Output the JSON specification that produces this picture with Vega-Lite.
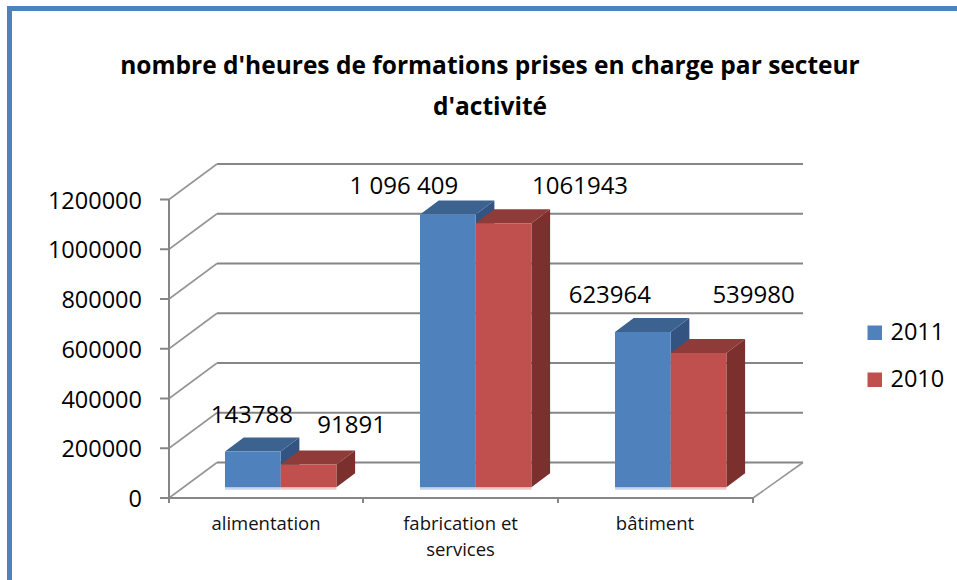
{
"$schema":"https://vega.github.io/schema/vega-lite/v6.json",
"width":634,"height":335,
"autosize":{"type":"none"},
"padding":{"left":169,"top":163,"right":154,"bottom":82},
"background":"white",
"config":{"view":{"stroke":null},"font":"Open Sans"},
"title":{"text":["nombre  d'heures de formations prises en charge par secteur","d'activité"],"font":"Open Sans","fontSize":24.5,"fontWeight":"bold","color":"#000000","anchor":"middle","frame":"group","dx":4,"offset":-114,"lineHeight":41},
"datasets":{
 "barres":[
  {"secteur":"alimentation","annee":"2011","valeur":143788,"etiquette":"143788"},
  {"secteur":"alimentation","annee":"2010","valeur":91891,"etiquette":"91891"},
  {"secteur":"fabrication et services","annee":"2011","valeur":1096409,"etiquette":"1 096 409"},
  {"secteur":"fabrication et services","annee":"2010","valeur":1061943,"etiquette":"1061943"},
  {"secteur":"bâtiment","annee":"2011","valeur":623964,"etiquette":"623964"},
  {"secteur":"bâtiment","annee":"2010","valeur":539980,"etiquette":"539980"}
 ],
 "graduations":[{"v":0},{"v":200000},{"v":400000},{"v":600000},{"v":800000},{"v":1000000},{"v":1200000}],
 "categories":[{"nom":"alimentation","rang":0},{"nom":"fabrication et\nservices","rang":1},{"nom":"bâtiment","rang":2}]
},
"data":{"name":"barres"},
"transform":[
 {"calculate":"indexof(['alimentation','fabrication et services','bâtiment'],datum.secteur)","as":"groupe"},
 {"calculate":"56+195*datum.groupe+(datum.annee==='2010'?55.7:0)","as":"x0"},
 {"calculate":"datum.x0+55.7","as":"x1"},
 {"calculate":"43015","as":"base"},
 {"calculate":"datum.base+datum.valeur","as":"haut"},
 {"calculate":"datum.groupe*2+(datum.annee==='2010'?1:0)","as":"k"}
],
"layer":[
 {"data":{"values":[{"a":1}]},"transform":[],"mark":{"type":"rule","stroke":"#4f81bd","strokeWidth":5},
  "encoding":{"x":{"datum":-159.5,"type":"quantitative","scale":{"domain":[0,634],"nice":false,"zero":false},"axis":null},"y":{"datum":1967839,"type":"quantitative","scale":{"domain":[0,1346734],"nice":false,"zero":false},"axis":null},"y2":{"datum":-340000}}},
 {"data":{"values":[{"a":1}]},"transform":[],"mark":{"type":"rule","stroke":"#4f81bd","strokeWidth":5},
  "encoding":{"x":{"datum":-162,"type":"quantitative"},"x2":{"datum":800},"y":{"datum":1967839,"type":"quantitative"}}},
 {"data":{"name":"graduations"},"transform":[{"calculate":"datum.v+142714","as":"v2"}],"mark":{"type":"rule","stroke":"#868686","strokeWidth":2},
  "encoding":{"x":{"datum":48,"type":"quantitative"},"x2":{"datum":634},"y":{"field":"v2","type":"quantitative"}}},
 {"data":{"name":"graduations"},"transform":[{"calculate":"datum.v+142714","as":"v2"}],"mark":{"type":"rule","stroke":"#969696","strokeWidth":1.6},
  "encoding":{"x":{"datum":0,"type":"quantitative"},"x2":{"datum":48},"y":{"field":"v","type":"quantitative"},"y2":{"field":"v2"}}},
 {"data":{"values":[{"a":1}]},"transform":[],"mark":{"type":"rule","stroke":"#969696","strokeWidth":1.6},
  "encoding":{"x":{"datum":584,"type":"quantitative"},"x2":{"datum":634},"y":{"datum":0,"type":"quantitative"},"y2":{"datum":142714}}},
 {"data":{"values":[{"a":1}]},"transform":[],"mark":{"type":"rule","stroke":"#868686","strokeWidth":2},
  "encoding":{"x":{"datum":0,"type":"quantitative"},"y":{"datum":0,"type":"quantitative"},"y2":{"datum":1200000}}},
 {"data":{"values":[{"a":1}]},"transform":[],"mark":{"type":"rule","stroke":"#868686","strokeWidth":2},
  "encoding":{"x":{"datum":0,"type":"quantitative"},"x2":{"datum":584},"y":{"datum":0,"type":"quantitative"}}},
 {"data":{"name":"graduations"},"transform":[],"mark":{"type":"rule","stroke":"#868686","strokeWidth":2},
  "encoding":{"x":{"datum":-9,"type":"quantitative"},"x2":{"datum":0},"y":{"field":"v","type":"quantitative"}}},
 {"data":{"name":"graduations"},"transform":[],"mark":{"type":"text","font":"Open Sans","fontSize":23.5,"align":"right","baseline":"middle","dy":2,"color":"#000000"},
  "encoding":{"x":{"datum":-27,"type":"quantitative"},"y":{"field":"v","type":"quantitative"},"text":{"field":"v","type":"nominal"}}},
 {"data":{"values":[{"t":0},{"t":194},{"t":389},{"t":584}]},"transform":[],"mark":{"type":"rule","stroke":"#868686","strokeWidth":2},
  "encoding":{"x":{"field":"t","type":"quantitative"},"y":{"datum":0,"type":"quantitative"},"y2":{"datum":-20000}}},
 {"transform":[
   {"filter":"datum.annee==='2011'"},
   {"calculate":"[0,1]","as":"ii"},{"flatten":["ii"],"as":["i"]},
   {"calculate":"datum.x1+datum.i*18.7","as":"xa"},
   {"calculate":"43015+datum.i*56281","as":"ya"},
   {"calculate":"datum.haut+datum.i*56281","as":"yb"}],
  "mark":{"type":"area","color":"#335480","opacity":1},
  "encoding":{"x":{"field":"xa","type":"quantitative"},"y":{"field":"ya","type":"quantitative"},"y2":{"field":"yb"},"detail":{"field":"secteur"}}},
 {"transform":[
   {"filter":"datum.annee==='2011'"},
   {"calculate":"[0,1,2,3]","as":"ii"},{"flatten":["ii"],"as":["i"]},
   {"calculate":"[datum.x0,datum.x0+18.7,datum.x1,datum.x1+18.7][datum.i]","as":"xa"},
   {"calculate":"datum.haut+(datum.i===3?56281:0)","as":"ya"},
   {"calculate":"datum.haut+(datum.i===0?0:56281)","as":"yb"}],
  "mark":{"type":"area","color":"#3c628f","opacity":1},
  "encoding":{"x":{"field":"xa","type":"quantitative"},"y":{"field":"ya","type":"quantitative"},"y2":{"field":"yb"},"detail":{"field":"secteur"}}},
 {"transform":[
   {"filter":"datum.annee==='2010'"},
   {"calculate":"[0,1]","as":"ii"},{"flatten":["ii"],"as":["i"]},
   {"calculate":"datum.x1+datum.i*18.7","as":"xa"},
   {"calculate":"43015+datum.i*56281","as":"ya"},
   {"calculate":"datum.haut+datum.i*56281","as":"yb"}],
  "mark":{"type":"area","color":"#7b302e","opacity":1},
  "encoding":{"x":{"field":"xa","type":"quantitative"},"y":{"field":"ya","type":"quantitative"},"y2":{"field":"yb"},"detail":{"field":"secteur"}}},
 {"transform":[
   {"filter":"datum.annee==='2010'"},
   {"calculate":"[0,1,2,3]","as":"ii"},{"flatten":["ii"],"as":["i"]},
   {"calculate":"[datum.x0,datum.x0+18.7,datum.x1,datum.x1+18.7][datum.i]","as":"xa"},
   {"calculate":"datum.haut+(datum.i===3?56281:0)","as":"ya"},
   {"calculate":"datum.haut+(datum.i===0?0:56281)","as":"yb"}],
  "mark":{"type":"area","color":"#8f3b39","opacity":1},
  "encoding":{"x":{"field":"xa","type":"quantitative"},"y":{"field":"ya","type":"quantitative"},"y2":{"field":"yb"},"detail":{"field":"secteur"}}},
 {"mark":{"type":"rect","color":"#c6d5e8"},
  "transform":[{"filter":"datum.annee==='2011'"},{"calculate":"33000","as":"reflet"}],
  "encoding":{"x":{"field":"x0","type":"quantitative"},"x2":{"field":"x1"},"y":{"field":"base","type":"quantitative"},"y2":{"field":"reflet"}}},
 {"mark":{"type":"rect","color":"#ecc8c7"},
  "transform":[{"filter":"datum.annee==='2010'"},{"calculate":"33000","as":"reflet"}],
  "encoding":{"x":{"field":"x0","type":"quantitative"},"x2":{"field":"x1"},"y":{"field":"base","type":"quantitative"},"y2":{"field":"reflet"}}},
 {"mark":{"type":"rect","opacity":1},
  "encoding":{"x":{"field":"x0","type":"quantitative"},"x2":{"field":"x1"},"y":{"field":"base","type":"quantitative"},"y2":{"field":"haut"},
   "color":{"field":"annee","type":"nominal","scale":{"domain":["2011","2010"],"range":["#4f81bd","#c0504d"]},
    "legend":{"title":null,"orient":"none","legendX":694,"legendY":158,"symbolType":"square","symbolSize":210,"symbolStrokeWidth":0,"symbolOpacity":1,"labelFont":"Open Sans","labelFontSize":23.5,"labelColor":"#000000","labelOffset":4,"rowPadding":22}}}},
 {"transform":[
   {"calculate":"[-1,43,-44,76.5,-33,55][datum.k]","as":"decal"},
   {"calculate":"[113769,127035,81608,117789,116583,201005][datum.k]","as":"hausse"},
   {"calculate":"(datum.x0+datum.x1)/2+datum.decal","as":"xt"},
   {"calculate":"datum.haut+datum.hausse","as":"yt"}],
  "mark":{"type":"text","font":"Open Sans","fontSize":24,"align":"center","baseline":"alphabetic","color":"#000000"},
  "encoding":{"x":{"field":"xt","type":"quantitative"},"y":{"field":"yt","type":"quantitative"},"text":{"field":"etiquette","type":"nominal"}}},
 {"data":{"name":"categories"},"transform":[{"calculate":"97+194.5*datum.rang","as":"xc"}],
  "mark":{"type":"text","font":"Open Sans","fontSize":18.5,"align":"center","baseline":"alphabetic","lineBreak":"\n","lineHeight":26,"dy":32,"color":"#111111"},
  "encoding":{"x":{"field":"xc","type":"quantitative"},"y":{"datum":0,"type":"quantitative"},"text":{"field":"nom","type":"nominal"}}}
],
"resolve":{"scale":{"x":"shared","y":"shared"}}
}
